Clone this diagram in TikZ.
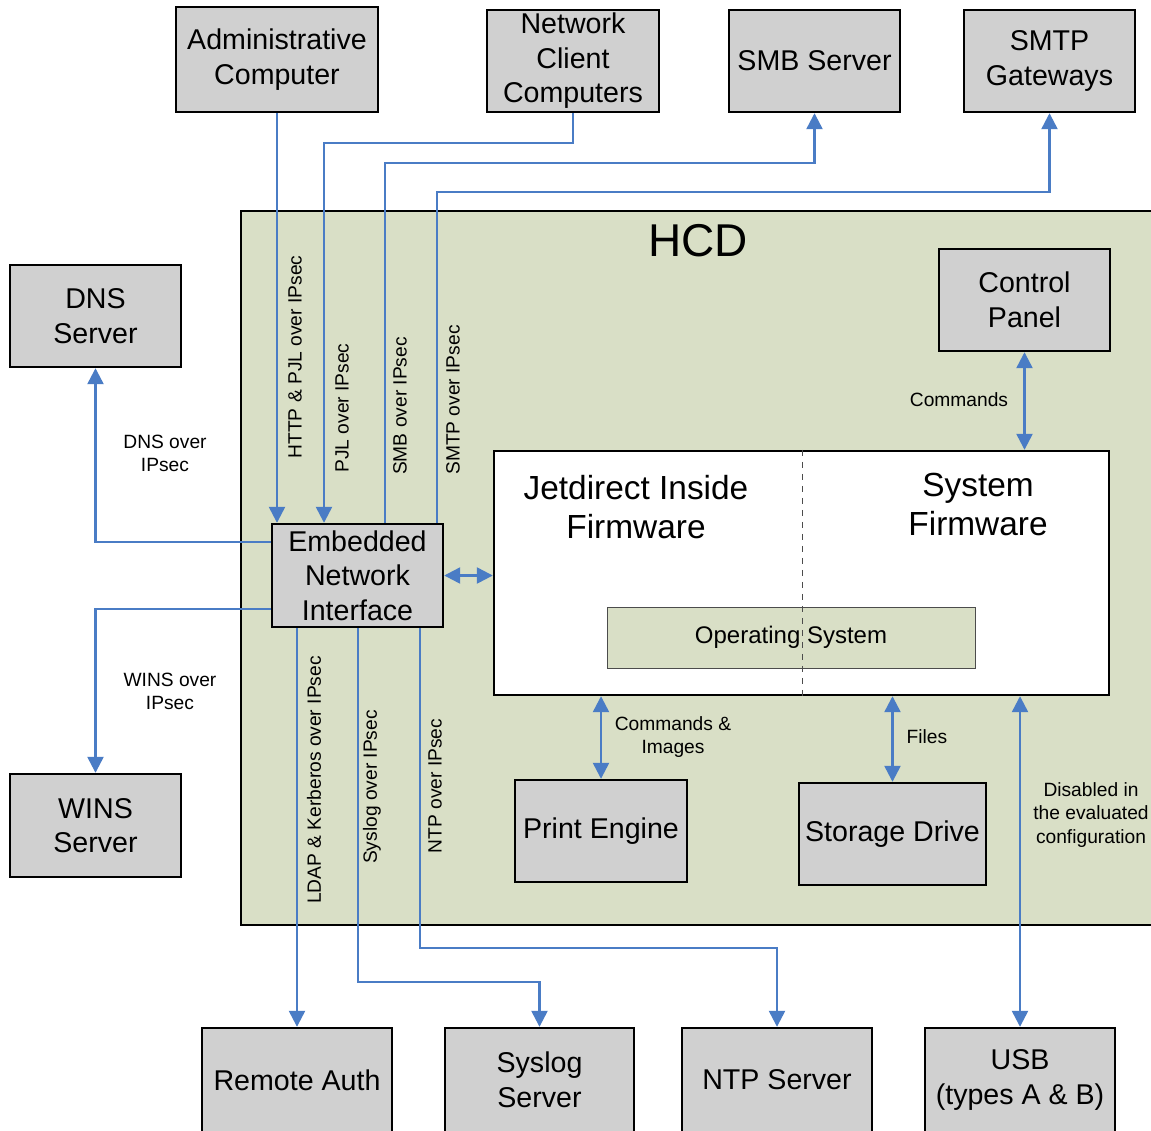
\documentclass[tikz,border=0pt]{standalone}
\usepackage{fontspec}
\setmainfont{Liberation Sans}
\usetikzlibrary{arrows.meta}
\definecolor{boxgray}{HTML}{D0D0D0}
\definecolor{hcdgreen}{HTML}{D9DFC6}
\definecolor{lineblue}{HTML}{4A7CC5}
\tikzset{
 box/.style={draw=black, line width=1.2pt, fill=boxgray, align=center, inner sep=0pt,
   font=\fontsize{14.3}{17.3}\selectfont},
 conn/.style={draw=lineblue, line width=1.2pt},
 arr/.style={conn, -{Triangle[width=8pt,length=8pt]}},
 darr/.style={conn, {Triangle[width=8pt,length=8pt]}-{Triangle[width=8pt,length=8pt]}},
 lbl/.style={font=\fontsize{9.6}{11.6}\selectfont, align=center, inner sep=0pt},
 vlbl/.style={lbl, rotate=90},
}
\begin{document}
\begin{tikzpicture}[x=0.5pt,y=-0.5pt]
\useasboundingbox[fill=white] (0,0) rectangle (1151,1130);
% HCD container
\node[draw=black, line width=1.2pt, fill=hcdgreen, minimum width=461pt, minimum height=357pt, inner sep=0pt] (hcd) at (702,568) {};
\node[font=\fontsize{23}{27}\selectfont, inner sep=0pt] (hcdlabel) at (698,241) {HCD};
% top boxes
\node[box, minimum width=101pt, minimum height=52.5pt] (admin) at (277,59.5) {Administrative\\Computer};
\node[box, minimum width=86pt, minimum height=51pt] (client) at (573,61) {Network\\Client\\Computers};
\node[box, minimum width=85.5pt, minimum height=51pt] (smb) at (814.5,61) {SMB Server};
\node[box, minimum width=85.5pt, minimum height=51pt] (smtp) at (1049.5,61) {SMTP\\Gateways};
% left boxes
\node[box, minimum width=85.5pt, minimum height=51pt] (dns) at (95.5,316) {DNS\\Server};
\node[box, minimum width=85.5pt, minimum height=51.5pt] (wins) at (95.5,825.5) {WINS\\Server};
% inside HCD
\node[box, minimum width=85.5pt, minimum height=51pt] (control) at (1024.5,300) {Control\\Panel};
\node[box, minimum width=85.5pt, minimum height=51.5pt] (eni) at (357.5,575.5) {Embedded\\Network\\Interface};
\node[draw=black, line width=1.2pt, fill=white, minimum width=307.5pt, minimum height=122pt, inner sep=0pt] (fw) at (801.5,573) {};
\node[draw=black!70, line width=0.5pt, fill=hcdgreen, minimum width=184pt, minimum height=30.5pt, inner sep=0pt,
  font=\fontsize{12}{14}\selectfont] (os) at (791,637.5) {Operating System};
\draw[black!70, line width=0.5pt, dashed] (fw.north -| 802,0) -- (fw.south -| 802,0);
\node[align=center, inner sep=0pt, font=\fontsize{16.7}{19.5}\selectfont] (jet) at (636,507) {Jetdirect Inside\\Firmware};
\node[align=center, inner sep=0pt, font=\fontsize{16.7}{19.5}\selectfont] (sys) at (978,504) {System\\Firmware};
\node[box, minimum width=86pt, minimum height=51pt] (print) at (601,831) {Print Engine};
\node[box, minimum width=93.5pt, minimum height=51pt] (storage) at (892.5,834) {Storage Drive};
% bottom boxes
\node[box, minimum width=95pt, minimum height=52pt] (remote) at (297,1080) {Remote Auth};
\node[box, minimum width=94.5pt, minimum height=52pt] (syslog) at (539.5,1080) {Syslog\\Server};
\node[box, minimum width=95pt, minimum height=52pt] (ntp) at (777,1080) {NTP Server};
\node[box, minimum width=95pt, minimum height=52pt] (usb) at (1020,1080) {USB\\(types A \& B)};
% connectors
\draw[arr] (admin.south) -- (admin.south |- eni.north);
\draw[arr] (client.south) |- (324,143) -- (324,0 |- eni.north);
\draw[arr] (385,0 |- eni.north) -- (385,163) -| (smb.south);
\draw[arr] (437,0 |- eni.north) -- (437,192) -| (smtp.south);
\draw[arr] (eni.west |- 0,542) -| (dns.south);
\draw[arr] (eni.west |- 0,609) -| (wins.north);
\draw[darr] (eni.east) -- (eni.east -| fw.west);
\draw[darr] (control.south) -- (control.south |- fw.north);
\draw[darr] (print.north) -- (print.north |- fw.south);
\draw[darr] (storage.north) -- (storage.north |- fw.south);
\draw[darr] (usb.north) -- (usb.north |- fw.south);
\draw[arr] (remote.north |- eni.south) -- (remote.north);
\draw[arr] (358,0 |- eni.south) -- (358,982) -| (syslog.north);
\draw[arr] (420,0 |- eni.south) -- (420,948) -| (ntp.north);
% labels
\node[vlbl] (l1) at (295,357) {HTTP \& PJL over IPsec};
\node[vlbl] (l2) at (342,408) {PJL over IPsec};
\node[vlbl] (l3) at (400,406) {SMB over IPsec};
\node[vlbl] (l4) at (453,400) {SMTP over IPsec};
\node[vlbl] (l5) at (314,780) {LDAP \& Kerberos over IPsec};
\node[vlbl] (l6) at (372,787) {Syslog over IPsec};
\node[vlbl] (l7) at (435,786) {NTP over IPsec};
\node[lbl] (l8) at (165,453) {DNS over\\IPsec};
\node[lbl] (l9) at (170,691) {WINS over\\IPsec};
\node[lbl] (l10) at (959,400) {Commands};
\node[lbl] (l11) at (673,737) {Commands \&\\Images};
\node[lbl] (l12) at (927,737) {Files};
\node[lbl] (l13) at (1091,815) {Disabled in\\the evaluated\\configuration};
\end{tikzpicture}
\end{document}
